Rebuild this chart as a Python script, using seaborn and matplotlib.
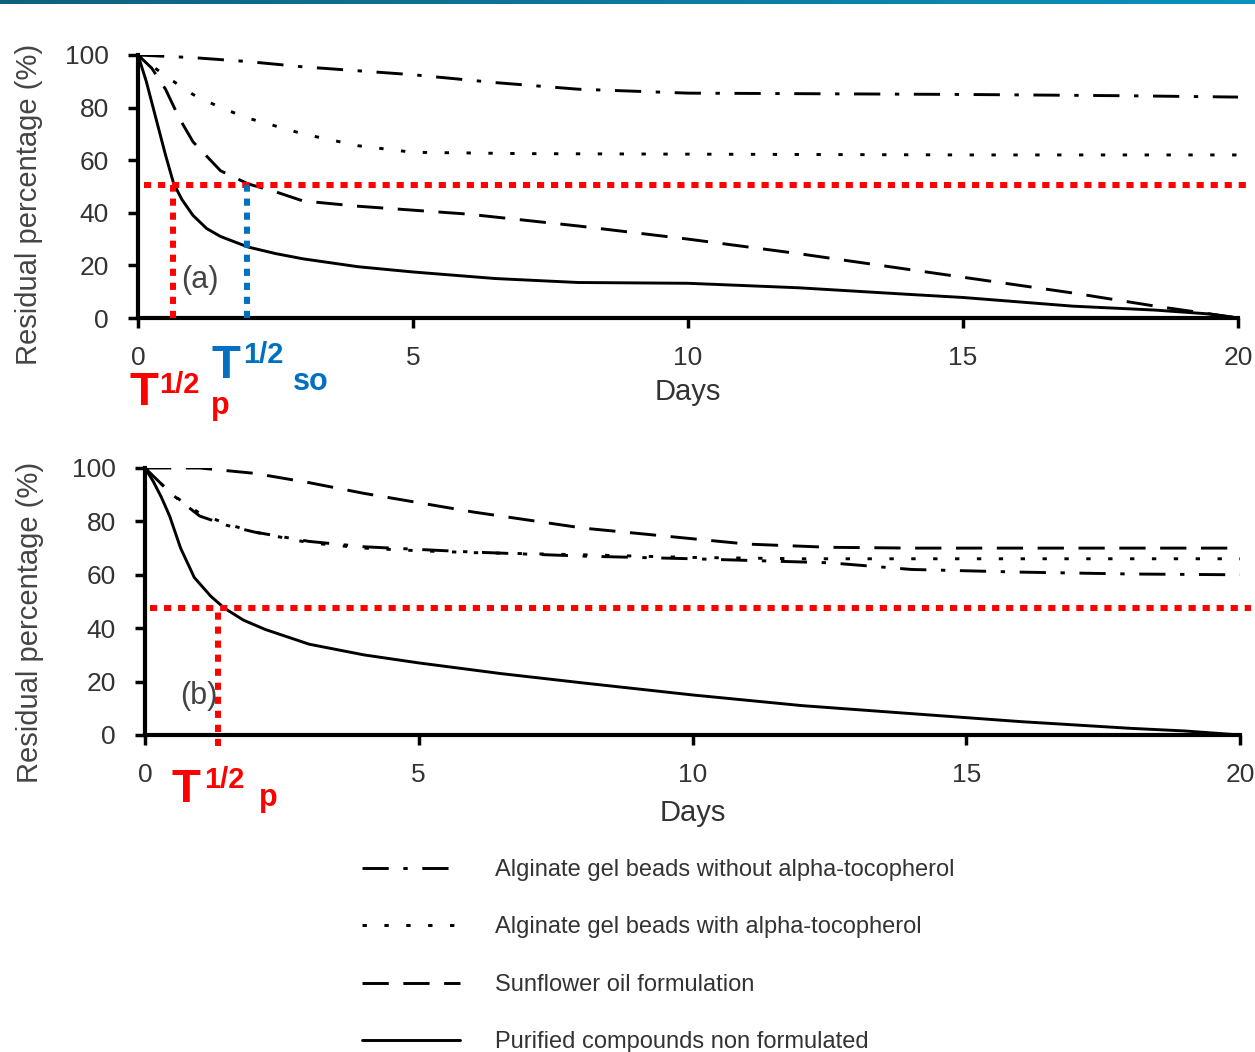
import numpy as np
import pandas as pd
import seaborn as sns
import matplotlib.pyplot as plt
from matplotlib.lines import Line2D
from matplotlib.colors import LinearSegmentedColormap

sns.set_style("ticks")
plt.rcParams['font.family'] = ['Liberation Sans', 'DejaVu Sans']

# series names
without_toco = "Alginate gel beads without alpha-tocopherol"
with_toco = "Alginate gel beads with alpha-tocopherol"
sunflower = "Sunflower oil formulation"
purified = "Purified compounds non formulated"
names = [without_toco, with_toco, sunflower, purified]

# panel (a)
a_without_days = [0, 1, 2, 3, 5, 6.5, 8, 10, 12, 15, 18, 20]
a_without_res = [100, 99, 97.5, 95.5, 92.5, 89.5, 87, 85.5, 85.3, 85, 84.5, 84]

a_with_days = [0, 0.5, 1, 1.5, 2, 3, 4, 5, 7, 10, 15, 20]
a_with_res = [100, 92, 85, 80, 76, 70, 65.5, 63, 62.5, 62.3, 62, 62]

a_sun_days = [0, 0.25, 0.5, 0.75, 1, 1.5, 2, 2.5, 3, 4, 5, 6, 8, 10, 12, 14, 16, 17, 18.5, 20]
a_sun_res = [100, 95, 87, 76, 67, 56, 51, 48, 44.5, 42.5, 41, 39.5, 35, 30, 24.5, 18.5, 12.5, 9.5, 4.5, 0]

a_pur_days = [0, 0.15, 0.3, 0.5, 0.65, 0.8, 1, 1.25, 1.5, 2, 2.5, 3, 4, 5, 6.5, 8, 10, 12, 14, 15, 17, 18.5, 19.5, 20]
a_pur_res = [100, 90, 78, 62, 51, 45, 39, 34, 31, 27, 24.5, 22.5, 19.5, 17.5, 15, 13.5, 13.2, 11.5, 9, 7.8, 4.5, 3, 1.5, 0]

# panel (b)
b_without_days = [0, 0.25, 0.5, 1, 1.5, 2, 3, 4, 5, 6, 8, 10, 12.5, 14, 16, 18, 20]
b_without_res = [100, 95, 90, 82, 78.5, 76, 72.5, 70.5, 69.5, 68.5, 67, 66, 64.5, 62, 61, 60.3, 60]

b_with_days = [0, 0.25, 0.5, 1, 1.5, 2, 3, 4, 5, 6, 8, 10, 12, 15, 20]
b_with_res = [100, 95, 90, 83, 79, 76, 72, 70, 69, 68.3, 67.5, 66.5, 66, 66, 66]

b_sun_days = [0, 1, 1.5, 2, 3, 4, 5, 6, 8, 10, 11, 12.5, 14, 16, 20]
b_sun_res = [100, 100, 99, 98, 94.5, 90.5, 87, 83.5, 77.5, 73.5, 71.5, 70.3, 70, 70, 70]

b_pur_days = [0, 0.15, 0.3, 0.45, 0.65, 0.9, 1.2, 1.45, 1.8, 2.2, 3, 4, 5, 6.5, 8, 10, 12, 14, 16, 18, 19, 20]
b_pur_res = [100, 95, 89, 82, 70, 59, 52, 47.5, 43, 39.5, 34, 30, 27, 23, 19.5, 15, 11, 8, 5, 2.5, 1.5, 0]

# half-life guides
a_half_level = 50.5
a_t_pur = 0.64
a_t_sun = 1.98
b_half_level = 47.5
b_t_pur = 1.33

days_ticks = [0, 5, 10, 15, 20]
res_ticks = [0, 20, 40, 60, 80, 100]

dash_map = {
    without_toco: (9, 5, 1.5, 5),
    with_toco: (1.5, 6),
    sunflower: (9, 5),
    purified: "",
}


def make_df(series):
    frames = []
    for name, d, r in series:
        frames.append(pd.DataFrame({"Days": d, "Residual": r, "formulation": name}))
    return pd.concat(frames, ignore_index=True)


df_a = make_df([(without_toco, a_without_days, a_without_res),
                (with_toco, a_with_days, a_with_res),
                (sunflower, a_sun_days, a_sun_res),
                (purified, a_pur_days, a_pur_res)])
df_b = make_df([(without_toco, b_without_days, b_without_res),
                (with_toco, b_with_days, b_with_res),
                (sunflower, b_sun_days, b_sun_res),
                (purified, b_pur_days, b_pur_res)])

W, H = 1255, 1052
fig = plt.figure(figsize=(W / 100, H / 100), dpi=100)
fig.patch.set_facecolor("white")

# teal bar at the top
bar = fig.add_axes([0, 1 - 4 / H, 1, 4 / H])
cmap = LinearSegmentedColormap.from_list("teal", ["#10607f", "#0a93bb"])
bar.imshow(np.linspace(0, 1, 256).reshape(1, -1), aspect="auto", cmap=cmap)
bar.axis("off")

ax_a = fig.add_axes([138 / W, 1 - 318 / H, 1100 / W, 263 / H])
ax_b = fig.add_axes([145 / W, 1 - 735 / H, 1095 / W, 267 / H])

red = "#ff0000"
blue = "#0070c0"
txt = "#333333"

for ax, df in [(ax_a, df_a), (ax_b, df_b)]:
    sns.lineplot(data=df, x="Days", y="Residual", style="formulation",
                 dashes=dash_map, style_order=names, color="black",
                 linewidth=2.1, legend=False, ax=ax, estimator=None)
    ax.set_xlim(0, 20)
    ax.set_ylim(0, 100)
    ax.set_xticks(days_ticks)
    ax.set_yticks(res_ticks)
    sns.despine(ax=ax)
    for s in ["left", "bottom"]:
        ax.spines[s].set_linewidth(3)
        ax.spines[s].set_color("black")
    ax.tick_params(axis="both", width=2.5, length=7, colors="black",
                   labelcolor=txt, labelsize=19)
    ax.tick_params(axis="x", pad=13)
    ax.tick_params(axis="y", pad=14)
    ax.set_ylabel("Residual percentage (%)", fontsize=21, color="#444444")
    ax.set_facecolor("none")

ax_a.yaxis.set_label_coords(-0.0864, 0.43)
ax_b.yaxis.set_label_coords(-0.092, 0.423)

ax_a.set_xlabel("Days", fontsize=21, color=txt, labelpad=6)
ax_b.set_xlabel("Days", fontsize=21, color=txt, labelpad=9)

# half-life guides, panel (a)
ax_a.plot([0.1, 20.2], [a_half_level, a_half_level], color=red, lw=4.3,
          dashes=(1.2, 1.15), clip_on=False, zorder=5)
ax_a.plot([a_t_pur, a_t_pur], [0, a_half_level], color=red, lw=4.3,
          dashes=(1.2, 1.15), clip_on=False, zorder=5)
ax_a.plot([a_t_sun, a_t_sun], [0, a_half_level], color=blue, lw=4.3,
          dashes=(1.2, 1.15), clip_on=False, zorder=5)
ax_a.text(1.13, 14.5, "(a)", fontsize=22, color="#444444", ha="center", va="center")

# half-life guides, panel (b)
ax_b.plot([0.1, 20.2], [b_half_level, b_half_level], color=red, lw=4.3,
          dashes=(1.2, 1.15), clip_on=False, zorder=5)
ax_b.plot([b_t_pur, b_t_pur], [-4, b_half_level], color=red, lw=4.3,
          dashes=(1.2, 1.15), clip_on=False, zorder=5)
ax_b.text(0.99, 14.5, "(b)", fontsize=22, color="#444444", ha="center", va="center")


def label(x, y, s, size, color):
    fig.text(x / W, 1 - y / H, s, fontsize=size, color=color,
             fontweight="bold", ha="left", va="baseline")


label(130, 405, "T", 34, red)
label(159, 393, "1/2", 21, red)
label(211, 414, "p", 22, red)

label(211, 378, "T", 34, blue)
label(243, 363, "1/2", 21, blue)
label(293, 390, "so", 22, blue)

label(172, 802, "T", 34, red)
label(204, 788, "1/2", 21, red)
label(259, 806, "p", 22, red)

# legend
handles = [Line2D([], [], color="black", lw=2.1, dashes=dash_map[n]) if dash_map[n]
           else Line2D([], [], color="black", lw=2.1) for n in names]
leg = fig.legend(handles, names, loc="upper left",
                 bbox_to_anchor=(362 / W, 1 - 859 / H), frameon=False,
                 fontsize=17, handlelength=4.15, handletextpad=1.5,
                 labelspacing=1.5, borderpad=0, borderaxespad=0)
for t in leg.get_texts():
    t.set_color(txt)

fig.savefig("out.png", dpi=100)
